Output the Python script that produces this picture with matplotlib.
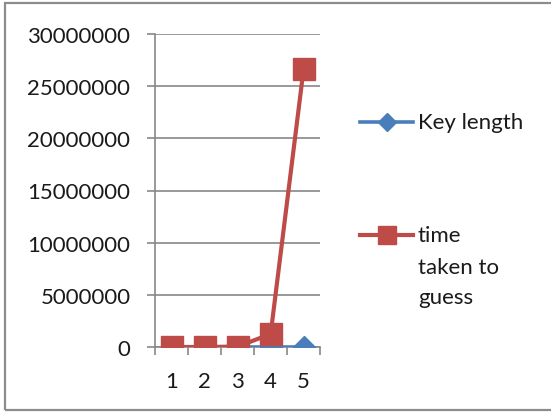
import matplotlib
matplotlib.use("Agg")
import matplotlib.pyplot as plt
from matplotlib.patches import Rectangle
from matplotlib.lines import Line2D

categories = ["1", "2", "3", "4", "5"]
key_length = [1, 2, 3, 4, 5]
time_taken = [10, 500, 40000, 1250000, 26600000]
y_ticks = [0, 5000000, 10000000, 15000000, 20000000, 25000000, 30000000]

blue = "#4A7EBB"
red = "#BE4B48"
grid_col = "#888888"
text_col = "#1a1a1a"
font = ["Lato", "DejaVu Sans"]
plt.rcParams["font.family"] = font
FS = 16

W, H = 551, 414
fig = plt.figure(figsize=(W / 100, H / 100), dpi=100)

# chart frame
fig.patches.append(Rectangle((5 / W, 1 - 411 / H), 600 / W, 407 / H,
                             transform=fig.transFigure, fill=False,
                             edgecolor="#8c8c8c", linewidth=1.6))

ax = fig.add_axes([155.5 / W, 1 - 348 / H, (320 - 155.5) / W, (348 - 35) / H])
x = list(range(len(categories)))

ax.plot(x, key_length, color=blue, linewidth=2.6, marker="D",
        markersize=11, markeredgecolor=blue, zorder=3)
ax.plot(x, time_taken, color=red, linewidth=3.0, marker="s",
        markersize=15.5, markeredgecolor=red, zorder=4)

ax.set_xlim(-0.5, len(categories) - 0.5)
ax.set_ylim(0, 30000000)
ax.set_yticks(y_ticks)
ax.set_yticklabels([str(v) for v in y_ticks], fontsize=FS, color=text_col)
ax.yaxis.grid(True, color=grid_col, linewidth=1.2)
ax.set_axisbelow(True)

ax.set_xticks([i - 0.5 for i in range(len(categories) + 1)], minor=False)
ax.set_xticklabels([""] * (len(categories) + 1))
ax.set_xticks(x, minor=True)
ax.set_xticklabels(categories, minor=True, fontsize=FS, color=text_col)
ax.tick_params(axis="x", which="major", length=6, color=grid_col, width=1.2)
ax.tick_params(axis="x", which="minor", length=0, pad=17)
ax.tick_params(axis="y", length=6, color=grid_col, width=1.2, pad=12)

for side in ["top", "right"]:
    ax.spines[side].set_visible(False)
for side in ["left", "bottom"]:
    ax.spines[side].set_color(grid_col)
    ax.spines[side].set_linewidth(1.2)

# legend
fig.text(418 / W, 1 - 123 / H, "Key length", fontsize=FS, va="center", color=text_col)
fig.text(418 / W, 1 - 236 / H, "time", fontsize=FS, va="center", color=text_col)
fig.text(418 / W, 1 - 268 / H, "taken to", fontsize=FS, va="center", color=text_col)
fig.text(418 / W, 1 - 298 / H, "guess", fontsize=FS, va="center", color=text_col)

legend_items = [(blue, 2.6, "D", 9.5, 123), (red, 3.0, "s", 13, 236)]
for col, lw, mk, ms, yy in legend_items:
    fig.lines.append(Line2D([360 / W, 413 / W], [1 - yy / H, 1 - yy / H],
                            transform=fig.transFigure, color=col, linewidth=lw))
    fig.lines.append(Line2D([387 / W], [1 - yy / H], transform=fig.transFigure,
                            color=col, marker=mk, markersize=ms, linestyle="none"))

fig.savefig("out.png", dpi=100)
